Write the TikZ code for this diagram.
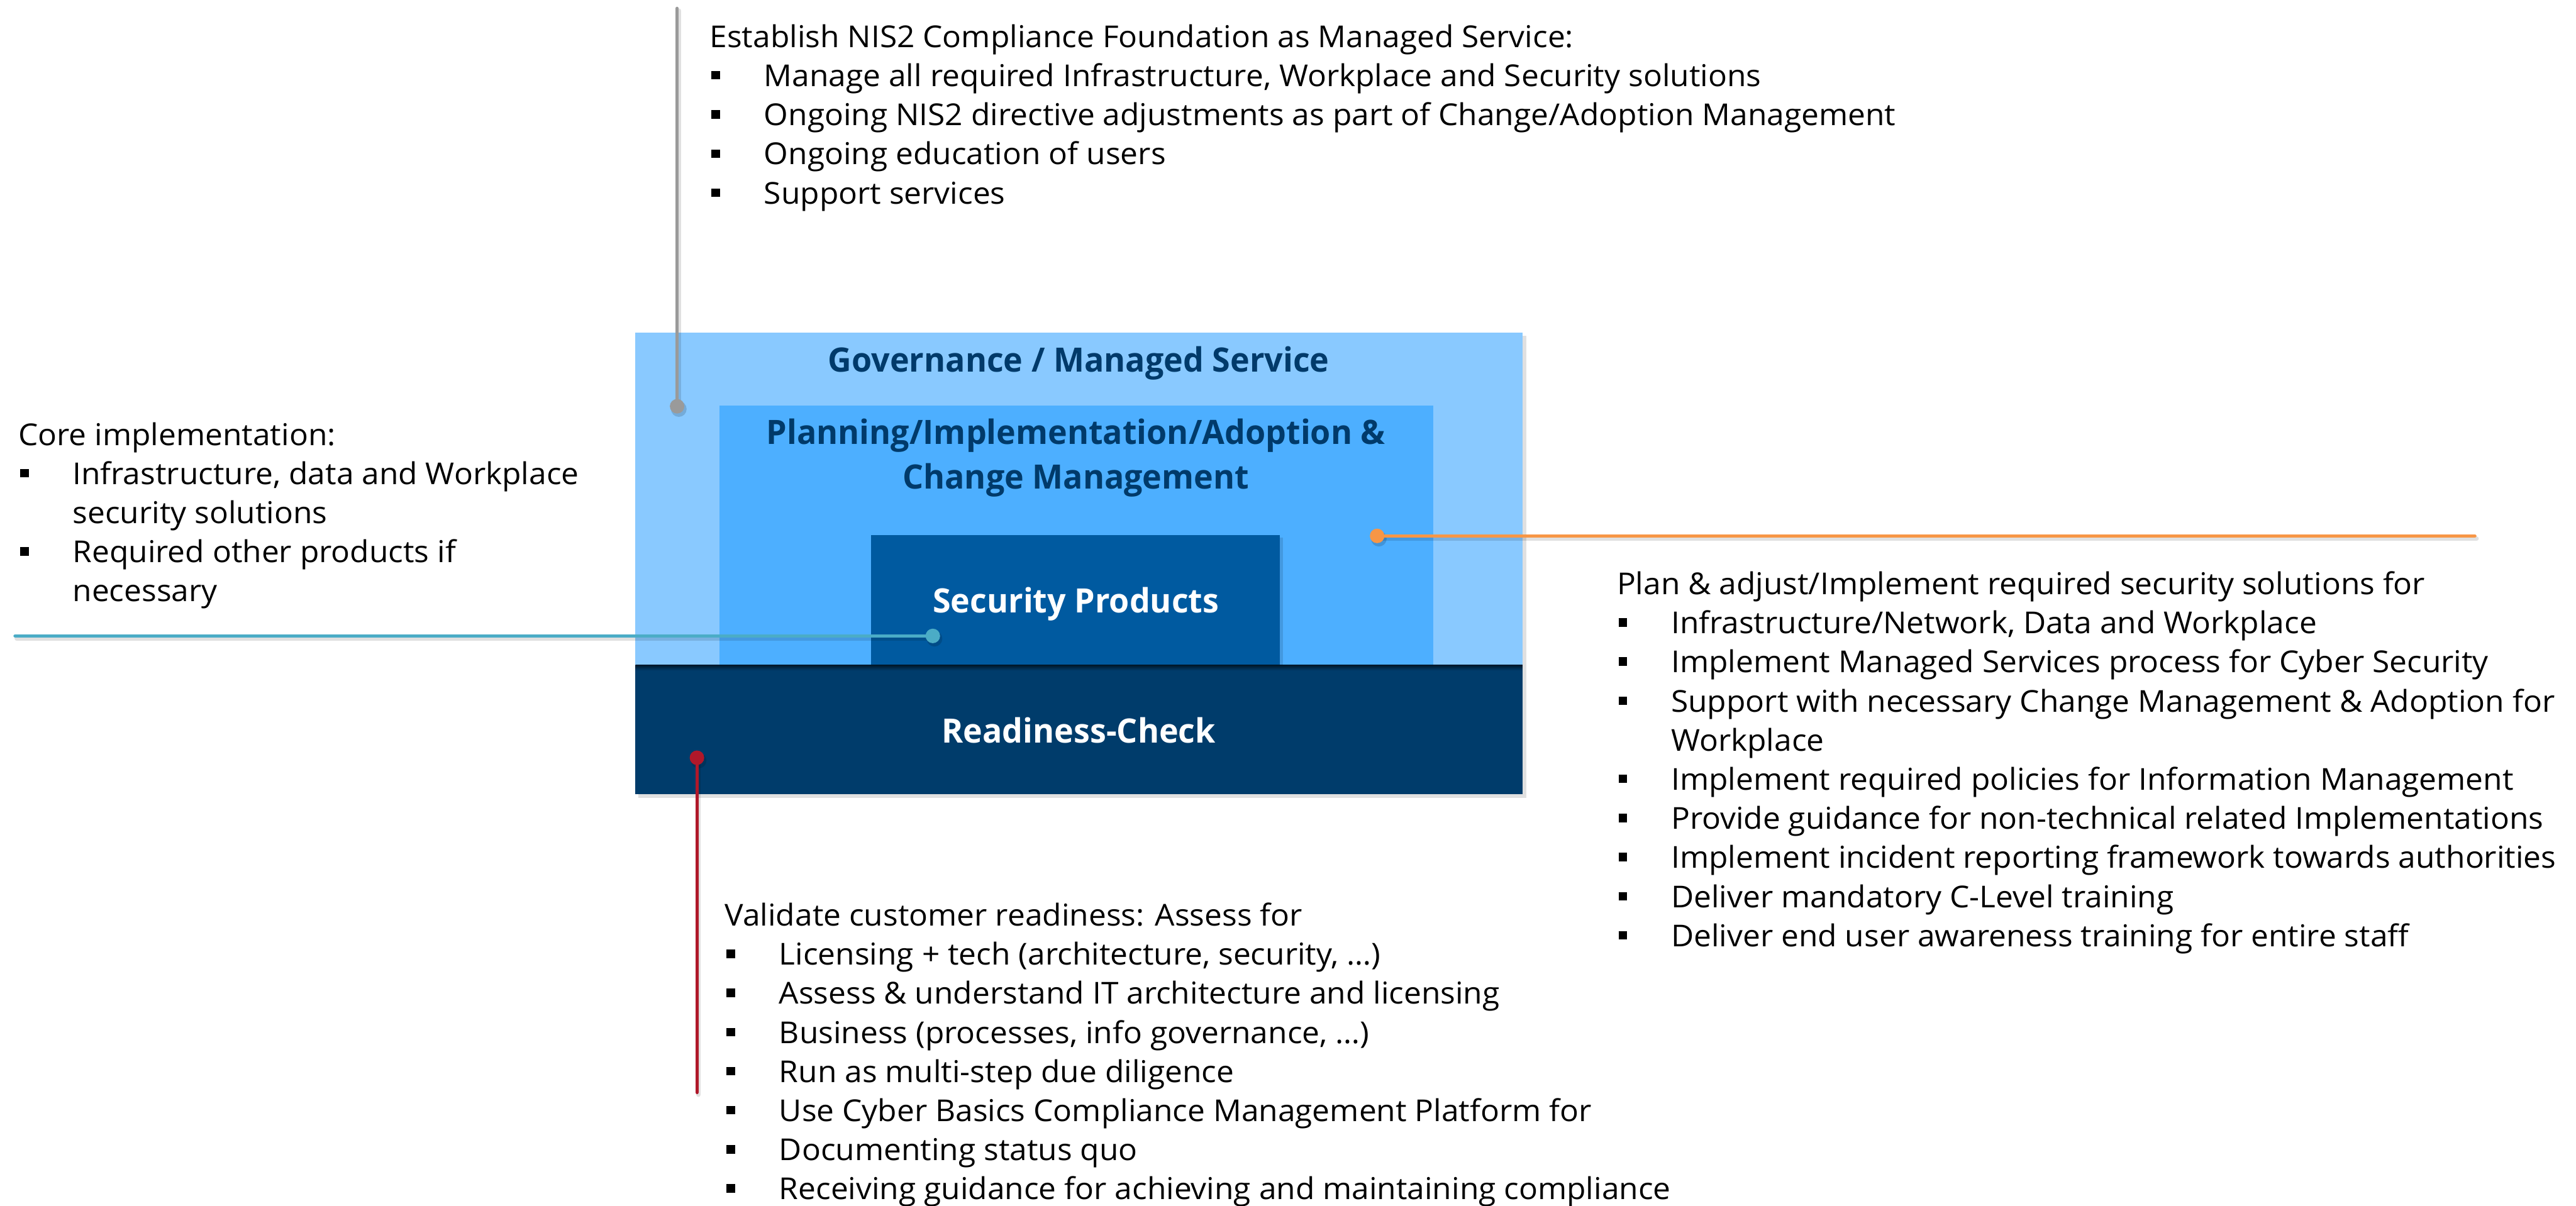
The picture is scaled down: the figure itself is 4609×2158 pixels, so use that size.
\documentclass[tikz,border=0pt]{standalone}
\usepackage{fontspec}
\setmainfont{Open Sans}[FakeStretch=1.035]
\IfFontExistsTF{Open Sans SemiBold}
  {\newfontfamily\labelfont{Open Sans SemiBold}[FakeStretch=0.975]}
  {\newfontfamily\labelfam{Open Sans}[FakeStretch=0.975]\newcommand\labelfont{\labelfam\bfseries}}
\usetikzlibrary{calc}

\definecolor{govfill}{HTML}{89C9FF}
\definecolor{planfill}{HTML}{4DAFFF}
\definecolor{secfill}{HTML}{005AA0}
\definecolor{readyfill}{HTML}{003C6B}
\definecolor{navytext}{HTML}{003A6A}
\definecolor{leadgray}{HTML}{9A9A9A}
\definecolor{leadorange}{HTML}{F79646}
\definecolor{leadteal}{HTML}{4BACC6}
\definecolor{leadred}{HTML}{B0182A}

% bullet marker and hanging indent for the callout lists
\newcommand\bul{\makebox[9.7pt][l]{\hspace{0.3pt}\rule[1.25pt]{1.55pt}{1.5pt}}}
\newcommand\cont{\hspace*{9.7pt}}

\tikzset{
  layer/.style={inner sep=0pt, outer sep=0pt, anchor=north west, draw=none},
  boxlabel/.style={inner sep=0pt, font=\labelfont\fontsize{6}{8}\selectfont, align=center},
  callout/.style={inner sep=0pt, anchor=north west, align=left,
    font=\fontsize{5.4}{7.0}\selectfont, text=black},
  leader/.style={line width=0.6pt, line cap=round},
  leadshadow/.style={line width=0.8pt, line cap=round, black, opacity=0.12},
  dotshadow/.style={fill=black, opacity=0.15},
}

\begin{document}
\begin{tikzpicture}[x=0.1pt, y=-0.1pt]
\useasboundingbox (0,0) rectangle (4609,2158);

% soft shadow behind the stacked layers
\fill[black, opacity=0.12] (1142,601) rectangle (2731,1428);

% nested layers
\node[layer, fill=govfill, minimum width=158.7pt, minimum height=59.5pt] (gov) at (1137,595) {};
\node[layer, fill=planfill, minimum width=127.7pt, minimum height=46.4pt] (plan) at (1287,726) {};
\fill[black, opacity=0.12] (1563,962) rectangle (2295,1194);
\node[layer, fill=secfill, minimum width=73.1pt, minimum height=23.2pt] (sec) at (1559,958) {};
\node[layer, fill=readyfill, minimum width=158.7pt, minimum height=23.1pt] (ready) at (1137,1190) {};
\shade[top color=black!60!readyfill, bottom color=readyfill] (1137,1190) rectangle (2724,1200);

% layer titles
\node[boxlabel, text=navytext, anchor=base] (govlabel) at (1930,665) {Governance / Managed Service};
\node[boxlabel, text=navytext, anchor=north] (planlabel) at (1925,737)
  {\strut Planning/Implementation/Adoption \&\\Change Management};
\node[boxlabel, text=white, anchor=base] (seclabel) at (1925,1097) {Security Products};
\node[boxlabel, text=white, anchor=base] (readylabel) at (1930,1330) {Readiness-Check};

% leader end points
\coordinate (gtop) at (1211.5,15);
\coordinate (gdot) at (1211.5,727);
\coordinate (odot) at (2464,959);
\coordinate (oend) at (4428,959);
\coordinate (tend) at (27,1138);
\coordinate (tdot) at (1669,1138);
\coordinate (rdot) at (1247,1356);
\coordinate (rend) at (1247,1955);

% leader shadows
\draw[leadshadow] ($(gtop)+(3,4)$) -- ($(gdot)+(3,4)$);
\draw[leadshadow] ($(odot)+(3,5)$) -- ($(oend)+(3,5)$);
\draw[leadshadow] ($(tend)+(3,5)$) -- ($(tdot)+(3,5)$);
\draw[leadshadow] ($(rdot)+(3,4)$) -- ($(rend)+(3,4)$);
\fill[dotshadow] ($(gdot)+(3,5)$) circle[radius=1.4pt];
\fill[dotshadow] ($(odot)+(3,5)$) circle[radius=1.4pt];
\fill[dotshadow] ($(tdot)+(3,5)$) circle[radius=1.4pt];
\fill[dotshadow] ($(rdot)+(3,5)$) circle[radius=1.4pt];

% leaders with their round markers
\draw[leader, leadgray] (gtop) -- (gdot);
\fill[leadgray] (gdot) circle[radius=1.3pt];
\draw[leader, leadorange] (odot) -- (oend);
\fill[leadorange] (odot) circle[radius=1.3pt];
\draw[leader, leadteal] (tend) -- (tdot);
\fill[leadteal] (tdot) circle[radius=1.3pt];
\draw[leader, leadred] (rdot) -- (rend);
\fill[leadred] (rdot) circle[radius=1.3pt];

% callout texts
\node[callout] (govtext) at (1268,33.8) {\strut Establish NIS2 Compliance Foundation as Managed Service:\\
\bul Manage all required Infrastructure, Workplace and Security solutions\\
\bul Ongoing NIS2 directive adjustments as part of Change/Adoption Management\\
\bul Ongoing education of users\\
\bul Support services};

\node[callout] (coretext) at (31,745.8) {\strut Core implementation:\\
\bul Infrastructure, data and Workplace\\
\cont security solutions\\
\bul Required other products if\\
\cont necessary};

\node[callout] (plantext) at (2891,1012.8) {\strut Plan \& adjust/Implement required security solutions for\\
\bul Infrastructure/Network, Data and Workplace\\
\bul Implement Managed Services process for Cyber Security\\
\bul Support with necessary Change Management \& Adoption for\\
\cont Workplace\\
\bul Implement required policies for Information Management\\
\bul Provide guidance for non-technical related Implementations\\
\bul Implement incident reporting framework towards authorities\\
\bul Deliver mandatory C-Level training\\
\bul Deliver end user awareness training for entire staff};

\node[callout] (readytext) at (1295,1605.8) {\strut Validate customer readiness: Assess for\\
\bul Licensing + tech (architecture, security, \dots)\\
\bul Assess \& understand IT architecture and licensing\\
\bul Business (processes, info governance, \dots)\\
\bul Run as multi-step due diligence\\
\bul Use Cyber Basics Compliance Management Platform for\\
\bul Documenting status quo\\
\bul Receiving guidance for achieving and maintaining compliance};
\end{tikzpicture}
\end{document}
